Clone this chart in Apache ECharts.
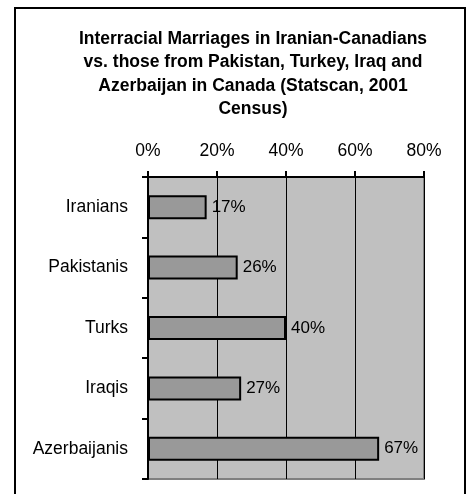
<!DOCTYPE html>
<html>
<head>
<meta charset="utf-8">
<script src="https://cdn.jsdelivr.net/npm/echarts@6/dist/echarts.min.js"></script>
<style>
html,body{margin:0;padding:0;background:#fff;}
#c{width:468px;height:494px;}
</style>
</head>
<body>
<div id="c"></div>
<script>
const categories = ["Iranians", "Pakistanis", "Turks", "Iraqis", "Azerbaijanis"];
const values = [17, 26, 40, 27, 67];
const xTicks = [0, 20, 40, 60, 80];

const chart = echarts.init(document.getElementById('c'), null, {renderer: 'canvas'});
const font = 'Liberation Sans, Arial, sans-serif';
chart.setOption({
  animation: false,
  backgroundColor: '#ffffff',
  title: {
    text: 'Interracial Marriages in Iranian-Canadians\nvs. those from Pakistan, Turkey, Iraq and\nAzerbaijan in Canada (Statscan, 2001\nCensus)',
    left: 248,
    top: 22,
    textAlign: 'center',
    textStyle: {fontFamily: font, fontSize: 17.5, fontWeight: 'bold', color: '#000', lineHeight: 23.5}
  },
  graphic: [{
    type: 'rect',
    shape: {x: 15, y: 8, width: 450, height: 520},
    style: {fill: 'none', stroke: '#000', lineWidth: 2},
    silent: true
  }],
  grid: {
    left: 148, top: 177, right: 44, bottom: 15,
    show: true, backgroundColor: '#c0c0c0', borderColor: '#808080', borderWidth: 2
  },
  xAxis: {
    type: 'value', position: 'top',
    min: xTicks[0], max: xTicks[xTicks.length - 1], interval: 20,
    axisLine: {show: true, lineStyle: {color: '#000', width: 2}},
    axisTick: {show: true, length: 6, lineStyle: {color: '#000', width: 2}},
    splitLine: {show: true, lineStyle: {color: '#000', width: 1}},
    axisLabel: {formatter: '{value}%', margin: 17, fontFamily: font, fontSize: 17.5, color: '#000'}
  },
  yAxis: {
    type: 'category', data: categories, inverse: true,
    axisLine: {show: true, lineStyle: {color: '#000', width: 2}},
    axisTick: {show: true, length: 6, lineStyle: {color: '#000', width: 2}},
    axisLabel: {margin: 20, fontFamily: font, fontSize: 17.5, color: '#000'}
  },
  series: [{
    type: 'bar', data: values, barWidth: 24,
    itemStyle: {color: '#999999', borderColor: '#000', borderWidth: 2},
    label: {show: true, position: 'right', distance: 5, formatter: '{c}%', fontFamily: font, fontSize: 17, color: '#000'}
  }]
});
</script>
</body>
</html>
